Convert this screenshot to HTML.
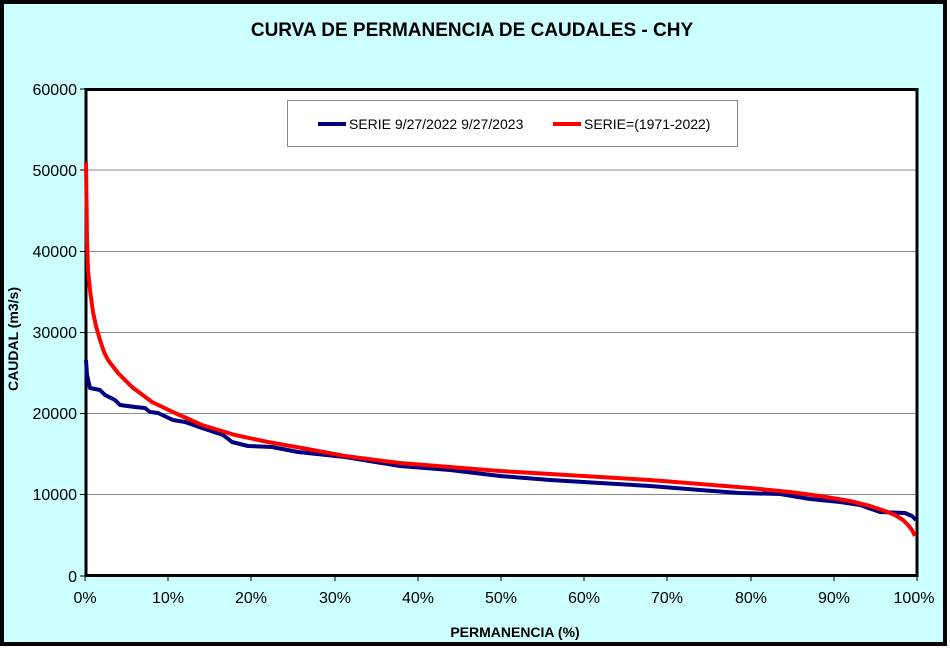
<!DOCTYPE html>
<html><head><meta charset="utf-8"><style>
body{margin:0;background:#fff;}
svg{display:block;font-family:"Liberation Sans",Arial,sans-serif;}
</style></head><body>
<svg width="950" height="648" viewBox="0 0 950 648" xmlns="http://www.w3.org/2000/svg">
<rect x="0" y="0" width="950" height="648" fill="#fff"/>
<rect x="2" y="2" width="943" height="642" fill="#ccffff" stroke="#000" stroke-width="4"/>
<text x="472" y="36" font-size="19" font-weight="bold" text-anchor="middle">CURVA DE PERMANENCIA DE CAUDALES - CHY</text>
<rect x="85" y="89" width="832" height="487" fill="#fff"/>
<g stroke="#888" stroke-width="1">
<line x1="85" y1="170" x2="917" y2="170"/><line x1="85" y1="251.5" x2="917" y2="251.5"/>
<line x1="85" y1="332.5" x2="917" y2="332.5"/><line x1="85" y1="413.5" x2="917" y2="413.5"/>
<line x1="85" y1="494.5" x2="917" y2="494.5"/>
</g>
<g stroke="#000" stroke-width="1">
<line x1="80" y1="89" x2="85" y2="89"/><line x1="80" y1="170" x2="85" y2="170"/><line x1="80" y1="251.5" x2="85" y2="251.5"/><line x1="80" y1="332.5" x2="85" y2="332.5"/><line x1="80" y1="413.5" x2="85" y2="413.5"/><line x1="80" y1="494.5" x2="85" y2="494.5"/><line x1="80" y1="576" x2="85" y2="576"/>
<line x1="85" y1="576" x2="85" y2="581"/><line x1="168" y1="576" x2="168" y2="581"/><line x1="251" y1="576" x2="251" y2="581"/><line x1="335" y1="576" x2="335" y2="581"/><line x1="418" y1="576" x2="418" y2="581"/><line x1="501" y1="576" x2="501" y2="581"/><line x1="584" y1="576" x2="584" y2="581"/><line x1="667" y1="576" x2="667" y2="581"/><line x1="751" y1="576" x2="751" y2="581"/><line x1="834" y1="576" x2="834" y2="581"/><line x1="917" y1="576" x2="917" y2="581"/>
</g>
<rect x="86" y="89.5" width="831" height="486" fill="none" stroke="#000" stroke-width="3"/>
<g font-size="16" text-anchor="end">
<text x="77" y="95">60000</text><text x="77" y="176">50000</text><text x="77" y="257">40000</text><text x="77" y="338">30000</text><text x="77" y="419">20000</text><text x="77" y="500">10000</text><text x="77" y="582">0</text>
</g>
<g font-size="16" text-anchor="middle">
<text x="85" y="603">0%</text><text x="168" y="603">10%</text><text x="251" y="603">20%</text><text x="335" y="603">30%</text><text x="418" y="603">40%</text><text x="501" y="603">50%</text><text x="584" y="603">60%</text><text x="667" y="603">70%</text><text x="751" y="603">80%</text><text x="834" y="603">90%</text><text x="914" y="603">100%</text>
</g>
<text x="515" y="637" font-size="14" font-weight="bold" text-anchor="middle">PERMANENCIA (%)</text>
<text transform="translate(18,339) rotate(-90)" font-size="14" font-weight="bold" text-anchor="middle">CAUDAL  (m3/s)</text>
<polyline fill="none" stroke="#000080" stroke-width="4" stroke-linejoin="round" points="86,360 87,375 90,388 100,390 105,395 115,400 120,405 135,407 145,408 150,412 158,413 173,420 185,422 202,428 223,435 227,438 232,442 248,446 272,447 298,452 345,457 400,466 450,470 500,476 550,480 600,483 650,486 700,490 740,493 780,494 810,499 840,502 860,505 880,512 905,513 912,516 916,520"/>
<polyline fill="none" stroke="#ff0000" stroke-width="4" stroke-linejoin="round" points="86,162 86.5,200 87,240 88,270 90,290 93,312 96,326 100,340 104,352 108,360 118,373 132,387 152,402 175,413 202,425 235,435 268,442 302,448 345,456 400,463 450,467 500,471 550,474 600,477 650,480 700,484 750,488 790,492 820,496 850,501 870,506 885,511 895,515 903,520 908,525 912,530 915,536"/>
<rect x="287.5" y="100.5" width="450" height="46" fill="#fff" stroke="#888" stroke-width="1"/>
<line x1="318" y1="124" x2="346" y2="124" stroke="#000080" stroke-width="4"/>
<text x="349" y="129" font-size="14">SERIE 9/27/2022 9/27/2023</text>
<line x1="553" y1="124" x2="581" y2="124" stroke="#ff0000" stroke-width="4"/>
<text x="584" y="129" font-size="14">SERIE=(1971-2022)</text>
</svg>
</body></html>
